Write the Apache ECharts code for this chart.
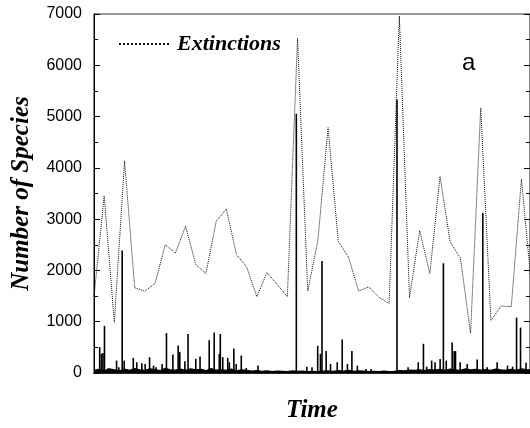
<!DOCTYPE html>
<html><head><meta charset="utf-8">
<script src="https://cdn.jsdelivr.net/npm/echarts@6/dist/echarts.min.js"></script>
<style>html,body{margin:0;padding:0;background:#fff}#c{width:530px;height:428px}</style>
</head><body><div id="c"></div>
<script>
// Extinctions, one value per time step (t = 0,1,2,...)
const extinctions = [1490, 3457, 989, 4136, 1662, 1596, 1745, 2501, 2340, 2864,
  2114, 1939, 2954, 3200, 2308, 2068, 1487, 1958, 1726, 1487,
  6528, 1596, 2585, 4784, 2566, 2262, 1596, 1681, 1474, 1357,
  6961, 1468, 2779, 1939, 3833, 2553, 2243, 775, 5171, 1022,
  1305, 1293, 3781, 1650];

// fine-resolution spikes (time, number of species)
const spikeTimes = [0.56, 0.73, 0.88, 1.03, 1.38, 2.22, 2.44, 2.77, 2.97, 3.86,
  4.20, 4.70, 5.03, 5.46, 5.85, 6.09, 6.69, 7.12, 7.75, 8.27,
  8.43, 8.93, 9.24, 10.0, 10.42, 11.32, 11.81, 12.31, 12.41, 12.65,
  13.14, 13.30, 13.74, 13.97, 14.47, 14.96, 16.12, 19.88, 20.92, 21.42,
  21.98, 22.25, 22.40, 22.81, 23.24, 23.90, 24.39, 24.90, 25.34, 25.88,
  26.73, 27.22, 29.77, 30.86, 31.86, 32.37, 32.69, 33.18, 33.51, 34.01,
  34.33, 34.61, 35.19, 35.39, 35.52, 35.98, 36.67, 37.65, 38.20, 38.63,
  39.61, 40.63, 41.13, 41.52, 41.91, 42.45];
const spikeValues = [504, 373, 388, 917, 90, 242, 111, 2391, 242, 295,
  210, 190, 177, 308, 144, 111, 177, 780, 360, 537,
  407, 229, 760, 275, 321, 640, 789, 373, 760, 308,
  295, 210, 480, 177, 340, 98, 144, 5055, 124, 111,
  530, 373, 2185, 430, 177, 210, 655, 177, 430, 144,
  79, 79, 5333, 111, 210, 570, 124, 242, 210, 275,
  2140, 242, 595, 430, 426, 210, 177, 262, 3122, 111,
  210, 144, 124, 1080, 886, 200];

// low-level background noise, sampled every 0.5 time units
const noiseValues = [50, 70, 45, 80, 60, 40, 75, 50, 85, 60,
  50, 80, 65, 45, 90, 60, 55, 75, 50, 80,
  60, 70, 45, 85, 55, 65, 50, 75, 40, 60,
  50, 38, 45, 32, 40, 28, 36, 32, 28, 40,
  32, 36, 25, 32, 28, 36, 40, 32, 45, 36,
  50, 32, 40, 36, 28, 32, 25, 36, 28, 32,
  45, 40, 55, 50, 60, 45, 65, 55, 70, 50,
  75, 60, 50, 80, 60, 70, 55, 65, 50, 75,
  60, 55, 70, 50, 80, 65, 60];
const noiseStep = 0.5;

const yMin = 0, yMax = 7000, yStep = 1000;
const xMin = 0, xMax = 42.84;

const serif = 'Liberation Serif';
const sans = 'Liberation Sans';

const chart = echarts.init(document.getElementById('c'), null, {renderer: 'canvas'});
const yCommon = {
  type: 'value', min: yMin, max: yMax, interval: yStep,
  splitLine: {show: false},
  axisLine: {show: true, lineStyle: {color: '#000', width: 1}},
  axisTick: {show: true, inside: true, length: 6, lineStyle: {color: '#000'}},
  minorTick: {show: true, splitNumber: 2, length: 4, lineStyle: {color: '#000'}}
};
chart.setOption({
  animation: false,
  backgroundColor: '#fff',
  grid: {left: 94, right: -1, top: 14, bottom: 53, show: true, borderColor: '#333', borderWidth: 1.2},
  legend: {
    data: ['Extinctions'], left: 113, top: 28, itemWidth: 50, itemHeight: 10,
    itemStyle: {opacity: 0},
    textStyle: {fontFamily: serif, fontWeight: 'bold', fontStyle: 'italic', fontSize: 22, color: '#000', padding: [0, 0, 0, 3]}
  },
  graphic: [{type: 'text', left: 462, top: 51, style: {text: 'a', fontFamily: sans, fontSize: 24, fill: '#000'}}],
  xAxis: {
    type: 'value', min: xMin, max: xMax,
    name: 'Time', nameLocation: 'middle', nameGap: 25,
    nameTextStyle: {fontFamily: serif, fontWeight: 'bold', fontStyle: 'italic', fontSize: 25, color: '#000'},
    axisLine: {show: true, onZero: false, lineStyle: {color: '#000', width: 1.5}},
    axisTick: {show: false}, axisLabel: {show: false}, splitLine: {show: false}
  },
  yAxis: [
    Object.assign({}, yCommon, {
      position: 'left',
      name: 'Number of Species', nameLocation: 'middle', nameGap: 60,
      nameTextStyle: {fontFamily: serif, fontWeight: 'bold', fontStyle: 'italic', fontSize: 25, color: '#000'},
      axisLabel: {show: true, fontFamily: sans, fontSize: 16, color: '#000', margin: 12, formatter: v => String(v)}
    }),
    Object.assign({}, yCommon, {position: 'right', axisLabel: {show: false}})
  ],
  series: [
    {
      name: 'Noise', type: 'line', symbol: 'none', silent: true, z: 1,
      data: noiseValues.map((v, i) => [i * noiseStep, v]),
      lineStyle: {color: '#000', width: 1.2},
      areaStyle: {color: '#000', opacity: 1}
    },
    {
      name: 'Spikes', type: 'bar', barWidth: 1.6, z: 2,
      itemStyle: {color: '#000'},
      data: spikeTimes.map((t, i) => [t, spikeValues[i]])
    },
    {
      name: 'Extinctions', type: 'line', symbol: 'none', z: 3,
      data: extinctions.map((v, i) => [i, v]),
      lineStyle: {color: '#111', width: 1, type: 'dotted'},
      itemStyle: {color: '#111'}
    }
  ]
});
</script>
</body></html>
